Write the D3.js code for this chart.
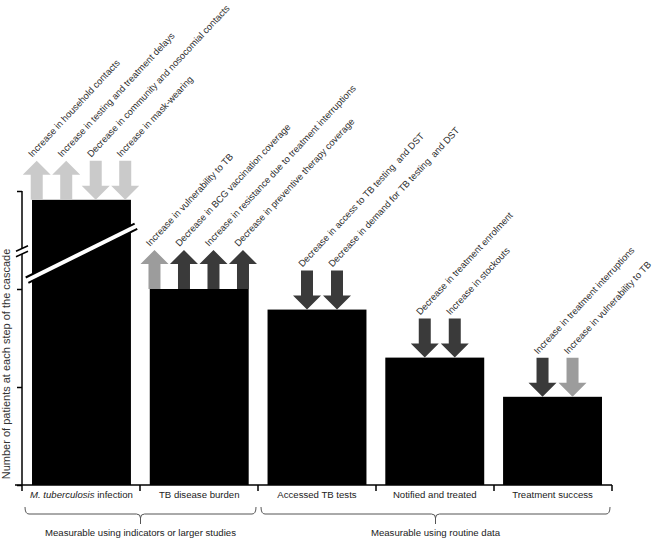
<!DOCTYPE html>
<html>
<head>
<meta charset="utf-8">
<script src="https://cdn.jsdelivr.net/npm/d3@7"></script>
<style>
  body { margin: 0; background: #fff; }
  svg { font-family: "Liberation Sans", Arial, sans-serif; }
</style>
</head>
<body>
<div class="d3"></div>
<script>
// steps of the cascade
const categories = ['M. tuberculosis infection', 'TB disease burden', 'Accessed TB tests', 'Notified and treated', 'Treatment success'];
// bar heights in arbitrary units (the first one is cut by the axis break)
const values = [2.91, 2.0, 1.79, 1.3, 0.9];
const yTicks = [0, 1, 2, 3];

// factors drawn as arrows on top of each bar
const factorLabels = [
  ['Increase in household contacts', 'Increase in testing and treatment delays', 'Decrease in community and nosocomial contacts', 'Increase in mask-wearing'],
  ['Increase in vulnerability to TB', 'Decrease in BCG vaccination coverage', 'Increase in resistance due to treatment interruptions', 'Decrease in preventive therapy coverage'],
  ['Decrease in access to TB testing  and DST', 'Decrease in demand for TB testing  and DST'],
  ['Decrease in treatment enrolment', 'Increase in stockouts'],
  ['Increase in treatment interruptions', 'Increase in vulnerability to TB']
];
const factorDirections = [
  ['up', 'up', 'down', 'down'],
  ['up', 'up', 'up', 'up'],
  ['down', 'down'],
  ['down', 'down'],
  ['down', 'down']
];
const factorShades = [
  ['light', 'light', 'light', 'light'],
  ['mid', 'dark', 'dark', 'dark'],
  ['dark', 'dark'],
  ['dark', 'dark'],
  ['dark', 'mid']
];

const groups = ['Measurable using indicators or larger studies', 'Measurable using routine data'];
const groupSpans = [[0, 1], [2, 4]];

(() => {
  let width = 657;
  let height = 539;

  let shadeColor = { light: '#cacaca', mid: '#9c9c9c', dark: '#3a3a3a' };

  let svg = d3
    .select('.d3')
    .append('svg')
    .attr('width', width)
    .attr('height', height);

  let x = d3
    .scaleBand()
    .domain(d3.range(categories.length))
    .range([22, 612])
    .paddingInner(0.16)
    .paddingOuter(0.085);

  let y = d3.scaleLinear().domain([0, 3]).range([485, 191]);

  // bars
  svg
    .append('g')
    .selectAll('rect')
    .data(values)
    .enter()
    .append('rect')
    .attr('x', (d, i) => x(i))
    .attr('y', d => y(d))
    .attr('width', x.bandwidth())
    .attr('height', d => y(0) - y(d))
    .attr('fill', '#000');

  // break across the first bar
  let b0 = x(0) - 5;
  let b1 = x(0) + x.bandwidth() + 5;
  svg.append('line')
    .attr('x1', b0).attr('y1', y(2.09))
    .attr('x2', b1).attr('y2', y(2.64))
    .attr('stroke', '#000').attr('stroke-width', 8);
  svg.append('line')
    .attr('x1', b0 - 1).attr('y1', y(2.09) + 0.5)
    .attr('x2', b1 + 1).attr('y2', y(2.64) - 0.5)
    .attr('stroke', '#fff').attr('stroke-width', 4);

  // y axis
  let yAxis = d3.axisLeft(y).tickValues(yTicks).tickSize(5).tickFormat('');
  let gy = svg.append('g').attr('transform', 'translate(22,0)').call(yAxis);
  gy.select('.domain').remove();
  gy.selectAll('.tick line').attr('stroke', '#000').attr('stroke-width', 1.5);
  gy.append('line')
    .attr('y1', y(0)).attr('y2', y(3))
    .attr('stroke', '#000').attr('stroke-width', 1.5);

  // y axis break
  let ax = 22;
  let ay = y(2.37);
  svg.append('polygon')
    .attr('points', [[ax - 6, ay + 4], [ax + 6, ay - 1.5], [ax + 6, ay - 7], [ax - 6, ay - 1.5]].join(' '))
    .attr('fill', '#fff');
  [0, -5.5].forEach(o => {
    svg.append('line')
      .attr('x1', ax - 6).attr('y1', ay + 4 + o)
      .attr('x2', ax + 6).attr('y2', ay - 1.5 + o)
      .attr('stroke', '#000').attr('stroke-width', 1.5);
  });

  svg.append('text')
    .attr('transform', `translate(9.5,${y(1.235)}) rotate(-90)`)
    .attr('text-anchor', 'middle')
    .attr('font-size', 11)
    .attr('fill', '#333')
    .text('Number of patients at each step of the cascade');

  // x axis
  let bounds = d3.range(categories.length + 1).map(i => 22 + i * 590 / categories.length);
  svg.append('line')
    .attr('x1', 15).attr('x2', 612)
    .attr('y1', y(0)).attr('y2', y(0))
    .attr('stroke', '#000').attr('stroke-width', 1.5);
  svg.append('g')
    .selectAll('line')
    .data(bounds)
    .enter()
    .append('line')
    .attr('x1', d => d).attr('x2', d => d)
    .attr('y1', y(0)).attr('y2', y(0) + 6)
    .attr('stroke', '#000').attr('stroke-width', 1.5);

  let catLabels = svg.append('g')
    .selectAll('text')
    .data(categories)
    .enter()
    .append('text')
    .attr('x', (d, i) => x(i) + x.bandwidth() / 2)
    .attr('y', y(0) + 12.5)
    .attr('text-anchor', 'middle')
    .attr('font-size', 9.6)
    .attr('fill', '#222');
  catLabels.each(function(d) {
    let t = d3.select(this);
    if (d.startsWith('M. tuberculosis')) {
      t.append('tspan').attr('font-style', 'italic').text('M. tuberculosis');
      t.append('tspan').text(d.slice('M. tuberculosis'.length));
    } else {
      t.text(d);
    }
  });

  // braces and group labels
  groups.forEach((label, gi) => {
    let x0 = bounds[groupSpans[gi][0]] + 3;
    let x1 = bounds[groupSpans[gi][1] + 1] - 2;
    let mid = (x0 + x1) / 2;
    let top = 507, bar = 514, stem = 524;
    let p = d3.path();
    p.moveTo(x0, top);
    p.quadraticCurveTo(x0, bar, x0 + 4, bar);
    p.lineTo(mid - 4, bar);
    p.quadraticCurveTo(mid, bar, mid, bar + 4);
    p.lineTo(mid, stem);
    p.moveTo(mid, bar + 4);
    p.quadraticCurveTo(mid, bar, mid + 4, bar);
    p.lineTo(x1 - 4, bar);
    p.quadraticCurveTo(x1, bar, x1, top);
    svg.append('path')
      .attr('d', p.toString())
      .attr('fill', 'none')
      .attr('stroke', '#555')
      .attr('stroke-width', 1);
    svg.append('text')
      .attr('x', mid)
      .attr('y', 536)
      .attr('text-anchor', 'middle')
      .attr('font-size', 9.6)
      .attr('fill', '#222')
      .text(label);
  });

  // arrows
  let len = 39, headH = 14, headW = 28, shaftW = 12;
  let arrowPath = (cx, base, dir) => {
    let p = d3.path();
    if (dir === 'up') {
      let tip = base - len;
      p.moveTo(cx - shaftW / 2, base);
      p.lineTo(cx - shaftW / 2, tip + headH);
      p.lineTo(cx - headW / 2, tip + headH);
      p.lineTo(cx, tip);
      p.lineTo(cx + headW / 2, tip + headH);
      p.lineTo(cx + shaftW / 2, tip + headH);
      p.lineTo(cx + shaftW / 2, base);
    } else {
      let top = base - len;
      p.moveTo(cx - shaftW / 2, top);
      p.lineTo(cx - shaftW / 2, base - headH);
      p.lineTo(cx - headW / 2, base - headH);
      p.lineTo(cx, base);
      p.lineTo(cx + headW / 2, base - headH);
      p.lineTo(cx + shaftW / 2, base - headH);
      p.lineTo(cx + shaftW / 2, top);
    }
    p.closePath();
    return p.toString();
  };

  let arrows = svg.append('g');
  values.forEach((v, i) => {
    let n = factorLabels[i].length;
    let centre = x(i) + x.bandwidth() / 2;
    let spacing = n === 4 ? 29.5 : 30;
    let shift = n === 4 ? -0.5 : 5;
    factorLabels[i].forEach((label, j) => {
      let cx = centre + shift + (j - (n - 1) / 2) * spacing;
      let base = y(v);
      arrows.append('path')
        .attr('d', arrowPath(cx, base, factorDirections[i][j]))
        .attr('fill', shadeColor[factorShades[i][j]]);
      arrows.append('text')
        .attr('transform', `translate(${cx - 4.5},${base - len - 3}) rotate(-47)`)
        .attr('font-size', 9.4)
        .attr('fill', '#2e2e2e')
        .style('white-space', 'pre')
        .text(label);
    });
  });
})();
</script>
</body>
</html>
